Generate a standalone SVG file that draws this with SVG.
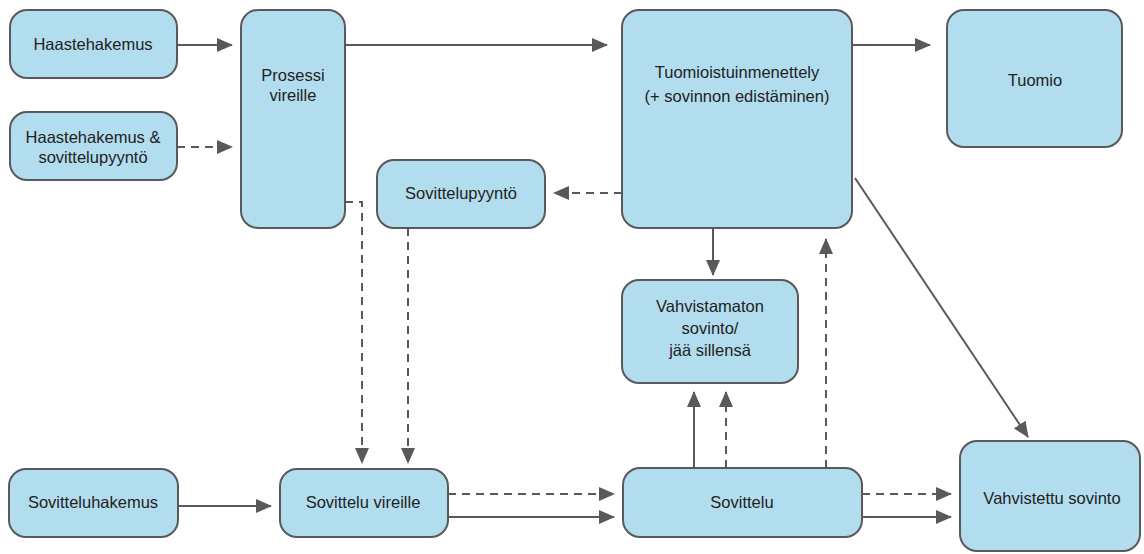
<svg xmlns="http://www.w3.org/2000/svg" width="1144" height="554" viewBox="0 0 1144 554">
<defs>
<marker id="ah" markerUnits="userSpaceOnUse" markerWidth="16" markerHeight="14" refX="15" refY="7" orient="auto">
<path d="M0,0 L16,7 L0,14 Z" fill="#595959"/>
</marker>
<style>
.box{fill:#b2ddee;stroke:#595959;stroke-width:2}
.t{font-family:"Liberation Sans",Arial,sans-serif;font-size:16.5px;fill:#222;text-anchor:middle}
.c{fill:none;stroke:#595959;stroke-width:2}
.d{stroke-dasharray:8 6}
</style>
</defs>
<rect width="1144" height="554" fill="#fff"/>
<g id="connectors">
<line class="c" x1="177" y1="45" x2="232" y2="45" marker-end="url(#ah)"/>
<line class="c d" x1="177" y1="147" x2="232" y2="147" marker-end="url(#ah)"/>
<line class="c" x1="345" y1="45" x2="607" y2="45" marker-end="url(#ah)"/>
<line class="c" x1="852" y1="45" x2="930" y2="45" marker-end="url(#ah)"/>
<line class="c d" x1="622" y1="193" x2="554" y2="193" marker-end="url(#ah)"/>
<polyline class="c d" points="345,202 362,202 362,463" marker-end="url(#ah)"/>
<line class="c d" x1="408" y1="228" x2="408" y2="463" marker-end="url(#ah)"/>
<line class="c" x1="178" y1="506" x2="271" y2="506" marker-end="url(#ah)"/>
<line class="c d" x1="448" y1="494" x2="614" y2="494" marker-end="url(#ah)"/>
<line class="c" x1="448" y1="517" x2="614" y2="517" marker-end="url(#ah)"/>
<line class="c" x1="713" y1="228" x2="713" y2="275" marker-end="url(#ah)"/>
<line class="c" x1="694" y1="468" x2="694" y2="392" marker-end="url(#ah)"/>
<line class="c d" x1="726" y1="468" x2="726" y2="392" marker-end="url(#ah)"/>
<line class="c d" x1="826" y1="468" x2="826" y2="239" marker-end="url(#ah)"/>
<line class="c" x1="855" y1="178" x2="1028" y2="437" marker-end="url(#ah)"/>
<line class="c d" x1="862" y1="494" x2="951" y2="494" marker-end="url(#ah)"/>
<line class="c" x1="862" y1="517" x2="951" y2="517" marker-end="url(#ah)"/>
</g>
<g id="haastehakemus">
<rect class="box" x="10" y="10" width="167" height="68" rx="17"/>
<text class="t" x="93" y="50">Haastehakemus</text>
</g>
<g id="haastehakemus-sovittelupyynto">
<rect class="box" x="10" y="112" width="167" height="68" rx="17"/>
<text class="t" x="93" y="143">Haastehakemus &amp;</text>
<text class="t" x="93" y="163">sovittelupyyntö</text>
</g>
<g id="prosessi-vireille">
<rect class="box" x="241" y="10" width="104" height="218" rx="17"/>
<text class="t" x="293" y="81">Prosessi</text>
<text class="t" x="293" y="101">vireille</text>
</g>
<g id="tuomioistuinmenettely">
<rect class="box" x="622" y="10" width="230" height="218" rx="17"/>
<text class="t" x="737" y="78">Tuomioistuinmenettely</text>
<text class="t" x="737" y="102">(+ sovinnon edistäminen)</text>
</g>
<g id="tuomio">
<rect class="box" x="947" y="10" width="175" height="137" rx="17"/>
<text class="t" x="1035" y="86">Tuomio</text>
</g>
<g id="sovittelupyynto">
<rect class="box" x="377" y="160" width="168" height="68" rx="17"/>
<text class="t" x="461" y="199">Sovittelupyyntö</text>
</g>
<g id="vahvistamaton-sovinto">
<rect class="box" x="622" y="280" width="176" height="103" rx="17"/>
<text class="t" x="710" y="312">Vahvistamaton</text>
<text class="t" x="710" y="334">sovinto/</text>
<text class="t" x="710" y="356">jää sillensä</text>
</g>
<g id="sovitteluhakemus">
<rect class="box" x="9" y="469" width="169" height="68" rx="17"/>
<text class="t" x="93" y="508">Sovitteluhakemus</text>
</g>
<g id="sovittelu-vireille">
<rect class="box" x="280" y="469" width="168" height="68" rx="17"/>
<text class="t" x="363" y="508">Sovittelu vireille</text>
</g>
<g id="sovittelu">
<rect class="box" x="623" y="468" width="239" height="69" rx="17"/>
<text class="t" x="742" y="508">Sovittelu</text>
</g>
<g id="vahvistettu-sovinto">
<rect class="box" x="960" y="441" width="180" height="110" rx="17"/>
<text class="t" x="1052" y="504">Vahvistettu sovinto</text>
</g>
</svg>
